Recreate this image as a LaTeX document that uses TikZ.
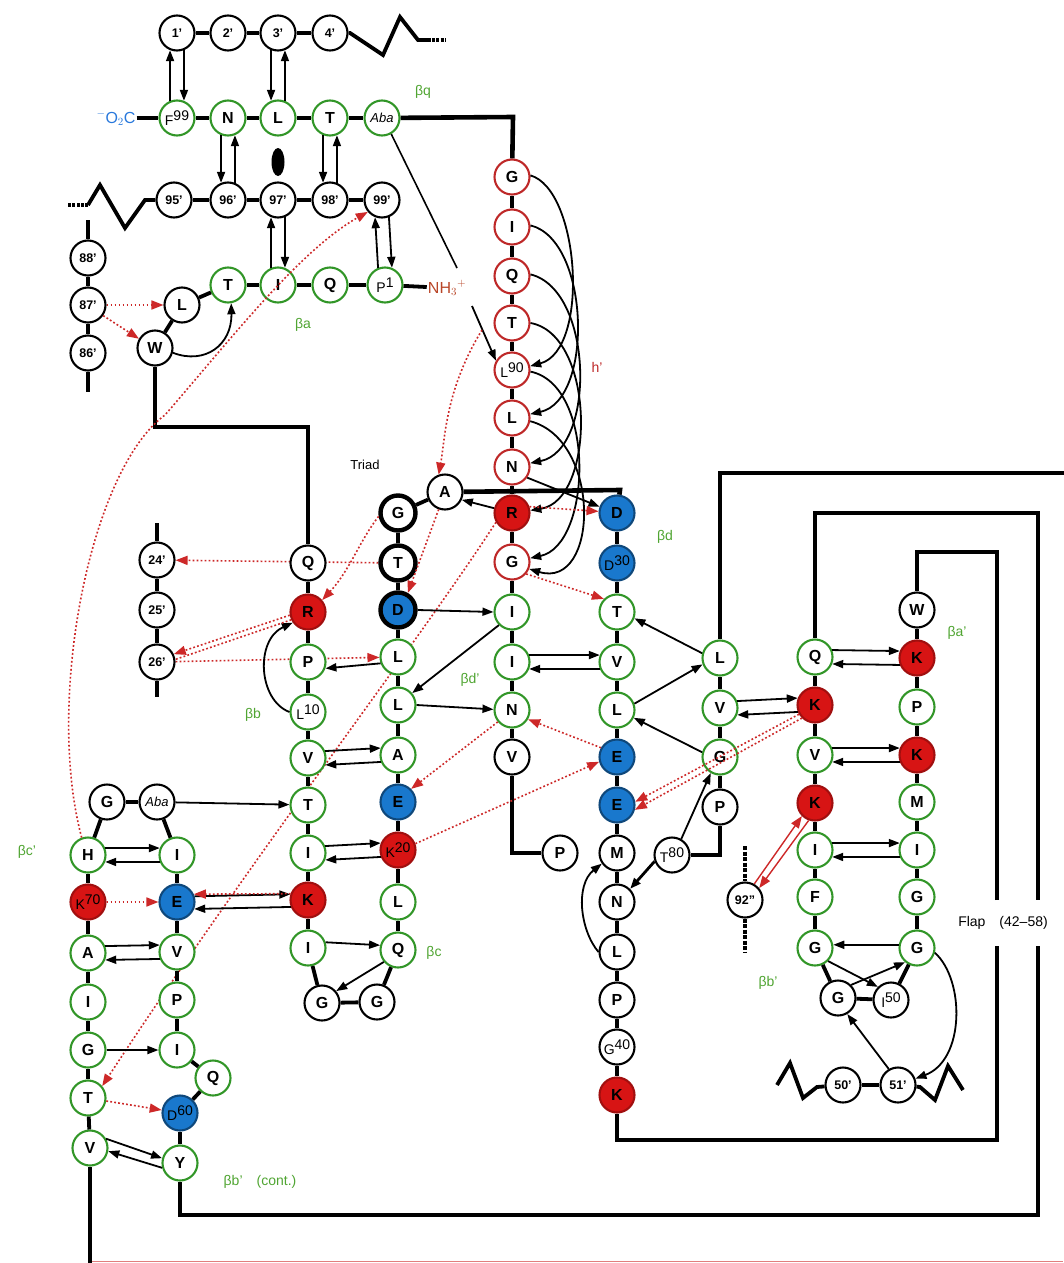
\documentclass[tikz,border=0pt]{standalone}
\usepackage{fontspec}
\setmainfont{Liberation Sans}
\usetikzlibrary{arrows.meta,backgrounds}
\definecolor{grn}{RGB}{50,150,40}
\definecolor{lgrn}{RGB}{80,165,50}
\definecolor{hred}{RGB}{190,40,40}
\definecolor{kred}{RGB}{215,20,20}
\definecolor{eblue}{RGB}{25,120,205}
\definecolor{oblue}{RGB}{40,120,220}
\definecolor{nhred}{RGB}{185,70,40}
\definecolor{dotred}{RGB}{205,40,40}
\newcommand\nr[2]{{\mdseries\fontsize{14}{14}\selectfont\raisebox{-2pt}{#1}\raisebox{2.5pt}{#2}}}
\tikzset{
 res/.style={circle, draw=black, line width=2.1pt, fill=white, minimum size=35pt, inner sep=0pt, font=\fontsize{16}{16}\selectfont\bfseries},
 gr/.style={res, draw=grn},
 hr/.style={res, draw=hred},
 kr/.style={res, fill=kred, draw=kred!75!black},
 eb/.style={res, fill=eblue, draw=eblue!60!black},
 tr/.style={res, line width=4.4pt},
 pr/.style={res, font=\fontsize{12.5}{12.5}\selectfont\bfseries},
 bond/.style={line width=3.8pt},
 chn/.style={line width=4.6pt},
 hb/.style={line width=1.8pt, -{Triangle[length=11pt,width=8pt]}},
 rdl/.style={draw=dotred, line width=1.6pt, dash pattern=on 1.8pt off 2.2pt},
 rd/.style={rdl, -{Triangle[length=12pt,width=9pt,fill=dotred]}},
 rs/.style={draw=dotred, line width=1.4pt, -{Triangle[length=12pt,width=9pt,fill=dotred]}},
 lab/.style={font=\fontsize{14}{14}\selectfont, text=lgrn, inner sep=0pt},
}
\begin{document}
\begin{tikzpicture}[x=1pt,y=-1pt]
\useasboundingbox (0,0) rectangle (1063,1263);
\begin{pgfonlayer}{background}
\fill[white] (0,0) rectangle (1063,1263);
\end{pgfonlayer}
% ---------- top rows
\node[pr] (p1) at (177,33) {1'};
\node[pr] (p2) at (228,33) {2'};
\node[pr] (p3) at (278,33) {3'};
\node[pr] (p4) at (330,33) {4'};
\node[gr] (F99) at (177,118) {\nr{F}{99}};
\node[gr] (N98) at (228,118) {N};
\node[gr] (L97) at (278,118) {L};
\node[gr] (T96) at (330,118) {T};
\node[gr,font=\fontsize{13}{13}\selectfont\itshape] (A95) at (382,118) {Aba};
\node[pr] (p95) at (174,200) {95'};
\node[pr] (p96) at (228,200) {96'};
\node[pr] (p97) at (278,200) {97'};
\node[pr] (p98) at (330,200) {98'};
\node[pr] (p99) at (382,200) {99'};
\node[gr] (T4) at (228,285) {T};
\node[gr] (I3) at (278,285) {I};
\node[gr] (Q2) at (330,285) {Q};
\node[gr] (P1) at (385,285) {\nr{P}{1}};
\node[res] (L5) at (182,305) {L};
\node[res] (W6) at (155,348) {W};
\node[pr] (p88) at (88,258) {88'};
\node[pr] (p87) at (88,305) {87'};
\node[pr] (p86) at (88,353) {86'};
\fill (278,162) ellipse (6.5 and 14);
\node[inner sep=1pt, text=oblue, font=\fontsize{16}{16}\selectfont] (oc) at (116,118) {$^{-}$O$_2$C};
\node[inner sep=1pt, text=nhred, font=\fontsize{16}{16}\selectfont] (nh) at (447,288) {NH$_3$$^{+}$};
% ---------- 24'-26'
\node[pr] (p24) at (157,560) {24'};
\node[pr] (p25) at (157,610) {25'};
\node[pr] (p26) at (157,662) {26'};
% ---------- beta b column
\node[res] (Q7) at (308,563) {Q};
\node[kr] (R8) at (308,612) {R};
\node[gr] (P9) at (308,662) {P};
\node[gr] (L10) at (308,712) {\nr{L}{10}};
\node[gr] (V11) at (308,758) {V};
\node[gr] (T12) at (308,805) {T};
\node[gr] (I13) at (308,853) {I};
\node[kr] (K14) at (308,900) {K};
\node[gr] (I15) at (308,948) {I};
\node[res] (G16) at (322,1003) {G};
\node[res] (G17) at (377,1002) {G};
% ---------- beta c column
\node[gr] (Q18) at (398,950) {Q};
\node[gr] (L19) at (398,902) {L};
\node[kr] (K20) at (398,850) {\nr{K}{20}};
\node[eb] (E21) at (398,802) {E};
\node[gr] (A22) at (398,755) {A};
\node[gr] (L23) at (398,705) {L};
\node[gr] (L24) at (398,657) {L};
\node[tr,fill=eblue] (D25) at (398,610) {D};
\node[tr] (T26) at (398,563) {T};
\node[tr] (G27) at (398,513) {G};
\node[res] (A28) at (445,492) {A};
% ---------- D29 column
\node[eb] (D29) at (617,513) {D};
\node[eb] (D30) at (617,563) {\nr{D}{30}};
\node[gr] (T31) at (617,612) {T};
\node[gr] (V32) at (617,662) {V};
\node[gr] (L33) at (617,710) {L};
\node[eb] (E34) at (617,757) {E};
\node[eb] (E35) at (617,805) {E};
\node[res] (M36) at (617,853) {M};
\node[res] (N37) at (617,902) {N};
\node[res] (L38) at (617,952) {L};
\node[res] (P39) at (617,1000) {P};
\node[res] (G40) at (617,1047) {\nr{G}{40}};
\node[kr] (R41) at (617,1095) {K};
% ---------- helix h' column
\node[hr] (G94) at (512,177) {G};
\node[hr] (I93) at (512,227) {I};
\node[hr] (Q92) at (512,276) {Q};
\node[hr] (T91) at (512,323) {T};
\node[hr] (L90) at (512,370) {\nr{L}{90}};
\node[hr] (L89) at (512,418) {L};
\node[hr] (N88) at (512,467) {N};
\node[kr] (R87) at (512,513) {R};
\node[hr] (G86) at (512,562) {G};
\node[gr] (I85) at (512,612) {I};
\node[gr] (I84) at (512,662) {I};
\node[gr] (N83) at (512,710) {N};
\node[res] (V82) at (512,757) {V};
\node[res] (P81) at (560,853) {P};
\node[res] (T80) at (672,855) {\nr{T}{80}};
\node[res] (P79) at (720,807) {P};
\node[gr] (G78) at (720,757) {G};
\node[gr] (V77) at (720,708) {V};
\node[gr] (L76) at (720,658) {L};
% ---------- flap
\node[gr] (Q58) at (815,657) {Q};
\node[kr] (R57) at (815,705) {K};
\node[gr] (V56) at (815,755) {V};
\node[kr] (K55) at (815,803) {K};
\node[gr] (I54) at (815,850) {I};
\node[gr] (F53) at (815,897) {F};
\node[gr] (G52) at (815,948) {G};
\node[res] (W42) at (917,610) {W};
\node[kr] (K43) at (917,658) {K};
\node[gr] (P44) at (917,707) {P};
\node[kr] (K45) at (917,755) {K};
\node[gr] (M46) at (917,802) {M};
\node[gr] (I47) at (917,850) {I};
\node[gr] (G48) at (917,897) {G};
\node[gr] (G49) at (917,948) {G};
\node[res] (G51) at (838,998) {G};
\node[res] (I50) at (891,1000) {\nr{I}{50}};
\node[pr] (p50) at (843,1085) {50'};
\node[pr] (p51) at (898,1085) {51'};
\node[pr] (p92) at (745,900) {92''};
% ---------- left sheet
\node[res] (G68) at (107,802) {G};
\node[res,font=\fontsize{13}{13}\selectfont\itshape] (A67) at (157,802) {Aba};
\node[gr] (H69) at (88,855) {H};
\node[kr] (K70) at (88,902) {\nr{K}{70}};
\node[gr] (A71) at (88,953) {A};
\node[gr] (I72) at (88,1002) {I};
\node[gr] (G73) at (88,1050) {G};
\node[gr] (T74) at (88,1098) {T};
\node[gr] (V75) at (90,1148) {V};
\node[gr] (I66) at (177,855) {I};
\node[eb] (E65) at (177,902) {E};
\node[gr] (V64) at (177,952) {V};
\node[gr] (P63) at (177,1000) {P};
\node[gr] (I62) at (177,1050) {I};
\node[gr] (Q61) at (213,1078) {Q};
\node[eb] (D60) at (180,1113) {\nr{D}{60}};
\node[gr] (Y59) at (180,1163) {Y};
% ---------- labels
\node[lab] (lbq) at (423,92) {βq};
\node[lab] (lba) at (303,325) {βa};
\node[lab] (lbb) at (253,715) {βb};
\node[lab] (lbd) at (665,537) {βd};
\node[lab] (lbd2) at (470,680) {βd'};
\node[lab] (lbc) at (434,953) {βc};
\node[lab] (lbc2) at (27,852) {βc'};
\node[lab] (lbb3) at (260,1182) {βb'\quad(cont.)};
\node[lab] (lba2) at (957,633) {βa'};
\node[lab] (lbb2) at (768,983) {βb'};
\node[lab, text=hred] (lh) at (597,367) {h'};
\node[inner sep=0pt, font=\fontsize{13}{13}\selectfont] (tri) at (365,465) {Triad};
\node[inner sep=0pt, font=\fontsize{14}{14}\selectfont] (flap) at (1003,923) {Flap\quad(42--58)};
% ---------- chain bonds
\foreach \a/\b in {p1/p2,p2/p3,p3/p4,oc/F99,F99/N98,N98/L97,L97/T96,T96/A95,p95/p96,p96/p97,p97/p98,p98/p99,
 P1/Q2,Q2/I3,I3/T4,T4/L5,L5/W6,P1/nh,p88/p87,p87/p86,p24/p25,p25/p26,
 Q7/R8,R8/P9,P9/L10,L10/V11,V11/T12,T12/I13,I13/K14,K14/I15,I15/G16,G16/G17,G17/Q18,Q18/L19,L19/K20,K20/E21,E21/A22,A22/L23,L23/L24,L24/D25,D25/T26,T26/G27,G27/A28,
 D29/D30,D30/T31,T31/V32,V32/L33,L33/E34,E34/E35,E35/M36,M36/N37,N37/L38,L38/P39,P39/G40,G40/R41,
 G94/I93,I93/Q92,Q92/T91,T91/L90,L90/L89,L89/N88,N88/R87,R87/G86,G86/I85,I85/I84,I84/N83,N83/V82,
 L76/V77,V77/G78,G78/P79,
 W42/K43,K43/P44,P44/K45,K45/M46,M46/I47,I47/G48,G48/G49,G49/I50,I50/G51,G51/G52,G52/F53,F53/I54,I54/K55,K55/V56,V56/R57,R57/Q58,p50/p51,
 Y59/D60,D60/Q61,Q61/I62,I62/P63,P63/V64,V64/E65,E65/I66,I66/A67,A67/G68,G68/H69,H69/K70,K70/A71,A71/I72,I72/G73,G73/T74,T74/V75}
 {\draw[bond] (\a) -- (\b);}
% ticks and zigzags
\draw[bond] (157,523) -- (p24); \draw[bond] (p26) -- (157,697);
\draw[bond] (88,220) -- (p88); \draw[bond] (p86) -- (88,392);
\draw[bond, dash pattern=on 4pt off 1.5pt] (745,846) -- (p92); \draw[bond, dash pattern=on 4pt off 1.5pt] (p92) -- (745,953);
\draw[bond, line join=miter] (p4) -- (350,33) -- (383,55) -- (400,17) -- (418,40) -- (428,40);
\draw[bond, dash pattern=on 3pt off 1.2pt] (428,40) -- (446,40);
\draw[bond, line join=miter] (p95) -- (145,200) -- (125,228) -- (100,185) -- (88,205);
\draw[bond, dash pattern=on 3pt off 1.2pt] (88,205) -- (68,205);
\draw[bond, line join=miter] (p50) -- (817,1087) -- (803,1098) -- (790,1063) -- (777,1085);
\draw[bond, line join=miter] (p51) -- (920,1087) -- (935,1100) -- (948,1066) -- (963,1090);
% long chain connectors
\draw[chn] (W6) -- (155,427) -- (308,427) -- (Q7);
\draw[chn] (A28) -- (620,490) -- (D29);
\draw[chn] (A95) -- (513,117) -- (G94);
\draw[chn] (P81) -- (512,853) -- (V82);
\draw[chn] (P79) -- (720,855) -- (T80);
\draw[chn] (R41) -- (617,1140) -- (997,1140) -- (997,946);
\draw[chn] (997,900) -- (997,552) -- (917,552) -- (W42);
\draw[chn] (Q58) -- (815,513) -- (1038,513) -- (1038,900);
\draw[chn] (1038,946) -- (1038,1215) -- (180,1215) -- (Y59);
\draw[chn] (L76) -- (720,473) -- (1070,473);
\draw[chn] (V75) -- (90,1270);
\draw[line width=1pt, dotred!60] (92,1261) -- (1063,1261);
% ---------- black H-bond arrows
\draw[hb] (F99.112) -- (p1.248); \draw[hb] (p1.292) -- (F99.68);
\draw[hb] (p3.248) -- (L97.112); \draw[hb] (L97.68) -- (p3.292);
\draw[hb] (N98.248) -- (p96.112); \draw[hb] (p96.68) -- (N98.292);
\draw[hb] (T96.248) -- (p98.112); \draw[hb] (p98.68) -- (T96.292);
\draw[hb] (I3.112) -- (p97.248); \draw[hb] (p97.292) -- (I3.68);
\draw[hb] (P1.112) -- (p99.248); \draw[hb] (p99.292) -- (P1.68);
\draw[hb] (W6.-15) .. controls (205,365) and (232,345) .. (T4.-80);
\coordinate (nhA) at (457,268);
\coordinate (nhB) at (472,306);
\draw[line width=1.6pt] (A95.-60) -- (nhA);
\draw[hb] (nhB) -- (L90.150);
% helix arcs
\draw[hb] (G94.5) .. controls (580,190) and (590,350) .. (L90.12);
\draw[hb] (I93.5) .. controls (590,240) and (594,400) .. (L89.12);
\draw[hb] (Q92.5) .. controls (594,290) and (596,450) .. (N88.12);
\draw[hb] (T91.0) .. controls (596,335) and (596,500) .. (R87.8);
\draw[hb] (L90.-5) .. controls (596,385) and (592,545) .. (G86.12);
\draw[hb] (L89.-10) .. controls (602,440) and (599,590) .. (G86.-22);
\draw[hb] (N88.-35) -- (D29.160);
\draw[hb] (R87.165) -- (A28.-25);
% core sheet
\draw[hb] (D25.0) -- (I85.180);
\draw[hb] (I85.225) -- (L23.40);
\draw[hb] (L23.0) -- (N83.178);
\draw[hb] (I84.22) -- (V32.158); \draw[hb] (V32.-158) -- (I84.-22);
\draw[hb] (L24.-160) -- (P9.-20);
\draw[hb] (V11.22) -- (A22.158); \draw[hb] (A22.-158) -- (V11.-22);
\draw[hb] (A67) -- (T12);
\draw[hb] (I13.22) -- (K20.158); \draw[hb] (K20.-158) -- (I13.-22);
\draw[hb] (K14.-158) -- (E65.-22); \draw[hb] (E65.18) -- (K14.162);
\draw[hb] (I15.18) -- (Q18.165);
\draw[hb] (Q18.220) -- (G16.40);
\draw[hb] (L10.180) .. controls (258,700) and (255,640) .. (R8.215);
% left sheet
\draw[hb] (H69.22) -- (I66.158); \draw[hb] (I66.-158) -- (H69.-22);
\draw[hb] (A71.22) -- (V64.158); \draw[hb] (V64.-158) -- (A71.-22);
\draw[hb] (G73.0) -- (I62.180);
\draw[hb] (V75.30) -- (Y59.165); \draw[hb] (Y59.-165) -- (V75.-10);
% flap and right
\draw[hb] (Q58.22) -- (K43.158); \draw[hb] (K43.-158) -- (Q58.-22);
\draw[hb] (V56.22) -- (K45.158); \draw[hb] (K45.-158) -- (V56.-22);
\draw[hb] (I54.22) -- (I47.158); \draw[hb] (I47.-158) -- (I54.-22);
\draw[hb] (G49.170) -- (G52.10);
\draw[hb] (V77.22) -- (R57.158); \draw[hb] (R57.-158) -- (V77.-22);
\draw[hb] (G52.-45) -- (I50.135);
\draw[hb] (G51.45) -- (G49.-130);
\draw[hb] (p51.120) -- (G51.-60);
\draw[hb] (G49.-15) .. controls (965,980) and (965,1060) .. (p51.20);
\draw[hb] (L76.165) -- (T31.-20);
\draw[hb] (L33.20) -- (L76.200);
\draw[hb] (G78.165) -- (L33.-25);
\draw[hb] (T80.60) -- (G78.-120);
\draw[hb, line width=2.8pt] (T80.200) -- (N37.45);
\draw[hb] (L38.180) .. controls (580,930) and (575,885) .. (M36.215);
% ---------- red H-bonds
\draw[rd] (p87) -- (L5);
\draw[rd] (p87.-35) -- (W6.150);
\draw[rd] (H69.110) .. controls (45,700) and (90,470) .. (165,415) .. controls (230,340) and (300,250) .. (p99.-140);
\begin{pgfonlayer}{background}
\draw[rd] (T26) -- (p24);
\draw[rd] (p26) -- (L24);
\draw[rd] (R87.-150) .. controls (420,640) and (250,860) .. (T74.40);
\end{pgfonlayer}
\draw[rd] (R8.190) -- (p26.25);
\draw[rdl] (R8.205) -- (p26.8);
\draw[rd] (G27.190) .. controls (360,540) and (350,570) .. (R8.40);
\draw[rd] (A28.-110) -- (D25.60);
\draw[rd] (482,330) .. controls (445,390) and (445,440) .. (A28.110);
\draw[rd] (K70) -- (E65);
\draw[rd] (K14.160) -- (E65.25);
\draw[rd] (T74) -- (D60);
\draw[rd] (N83.-140) -- (E21.45);
\draw[rd] (E34.150) -- (N83.-30);
\draw[rd] (K20.20) -- (E34.-165);
\draw[rd] (R57.-150) -- (E35.10);
\draw[rd] (R57.-135) -- (E35.-15);
\draw[rd] (G86.-40) -- (T31.135);
\draw[rd] (R87.20) -- (D29.175);
\draw[rs] (p92.60) -- (K55.-135);
\draw[rs] (K55.-110) -- (p92.40);
\end{tikzpicture}
\end{document}
